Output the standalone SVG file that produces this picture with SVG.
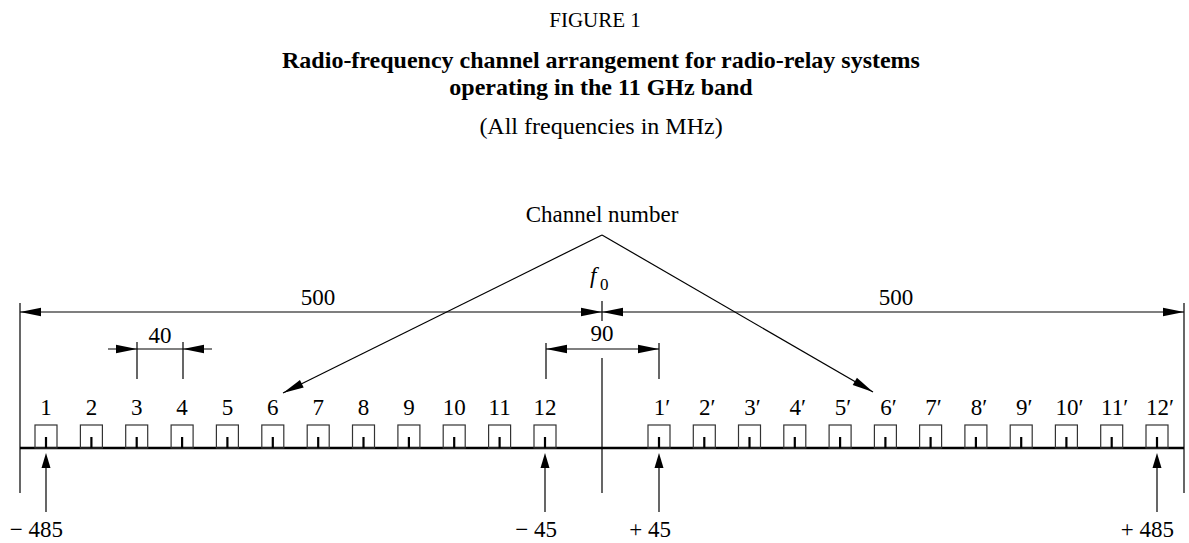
<svg xmlns="http://www.w3.org/2000/svg" xmlns:xlink="http://www.w3.org/1999/xlink" width="1189" height="543" viewBox="0 0 1189 543">
<style>
text{font-family:"Liberation Serif","Times New Roman",serif;fill:#000}
.t{font-size:23px;text-anchor:middle}
.b{font-size:24px;font-weight:bold;text-anchor:middle}
.l{stroke:#000;stroke-width:1.2;fill:none}
.box{stroke:#333;stroke-width:1.2;fill:none}
.tick{stroke:#000;stroke-width:2.2}
.base{stroke:#000;stroke-width:2.4}
</style>
<defs>
<path id="ah" d="M0,0 L-21,-4.2 L-21,4.2 Z" fill="#000"/>
<path id="ahs" d="M0,0 L-15,-4.5 L-15,4.5 Z" fill="#000"/>
<g id="ch"><rect class="box" x="-11" y="425" width="22" height="23"/><line class="tick" x1="0" y1="437" x2="0" y2="448"/></g>
</defs>

<g id="title">
<text x="595" y="27" style="font-size:21px;text-anchor:middle">FIGURE 1</text>
<text class="b" x="601" y="68">Radio-frequency channel arrangement for radio-relay systems</text>
<text class="b" x="601" y="95">operating in the 11 GHz band</text>
<text class="t" x="601" y="134" style="font-size:24px">(All frequencies in MHz)</text>
</g>

<g id="connectors">
<!-- outer limits -->
<line class="l" x1="20" y1="303" x2="20" y2="493"/>
<line class="l" x1="1184" y1="303" x2="1184" y2="493"/>
<line class="l" x1="20" y1="312" x2="1184" y2="312"/>
<use xlink:href="#ah" transform="translate(20,312) rotate(180)"/>
<use xlink:href="#ah" transform="translate(1184,312)"/>
<use xlink:href="#ah" transform="translate(602,312)"/>
<use xlink:href="#ah" transform="translate(602,312) rotate(180)"/>
<line class="l" x1="602" y1="301" x2="602" y2="321"/>
<!-- 40 dimension -->
<line class="l" x1="108" y1="349" x2="212" y2="349"/>
<line class="l" x1="137" y1="342" x2="137" y2="379"/>
<line class="l" x1="183" y1="342" x2="183" y2="379"/>
<use xlink:href="#ah" transform="translate(137,349)"/>
<use xlink:href="#ah" transform="translate(183,349) rotate(180)"/>
<!-- 90 dimension -->
<line class="l" x1="546" y1="349" x2="659" y2="349"/>
<line class="l" x1="546" y1="343" x2="546" y2="379"/>
<line class="l" x1="659" y1="343" x2="659" y2="379"/>
<use xlink:href="#ah" transform="translate(546,349) rotate(180)"/>
<use xlink:href="#ah" transform="translate(659,349)"/>
<!-- centre line -->
<line class="l" x1="602" y1="358" x2="602" y2="493"/>
<!-- channel number pointers -->
<line class="l" x1="602" y1="235" x2="283" y2="393"/>
<line class="l" x1="602" y1="235" x2="873" y2="392"/>
<use xlink:href="#ah" transform="translate(283,393) rotate(153.65)"/>
<use xlink:href="#ah" transform="translate(873,392) rotate(30.08)"/>
<!-- baseline -->
<line class="base" x1="20" y1="448" x2="1184" y2="448"/>
<!-- frequency arrows -->
<line class="l" x1="46" y1="512" x2="46" y2="462"/>
<use xlink:href="#ahs" transform="translate(46,453) rotate(-90)"/>
<line class="l" x1="545" y1="512" x2="545" y2="462"/>
<use xlink:href="#ahs" transform="translate(545,453) rotate(-90)"/>
<line class="l" x1="659" y1="512" x2="659" y2="462"/>
<use xlink:href="#ahs" transform="translate(659,453) rotate(-90)"/>
<line class="l" x1="1157" y1="512" x2="1157" y2="462"/>
<use xlink:href="#ahs" transform="translate(1157,453) rotate(-90)"/>
</g>

<g id="labels">
<text class="t" x="602" y="222">Channel number</text>
<text class="t" x="318" y="305">500</text>
<text class="t" x="896" y="305">500</text>
<text x="590" y="283" style="font-size:23px;font-style:italic">f</text>
<text x="600" y="290" style="font-size:17px">0</text>
<text class="t" x="160" y="343">40</text>
<text class="t" x="602" y="341">90</text>
<text x="63" y="537" style="font-size:23px;text-anchor:end">− 485</text>
<text x="557" y="537" style="font-size:23px;text-anchor:end">− 45</text>
<text x="671" y="537" style="font-size:23px;text-anchor:end">+ 45</text>
<text x="1174" y="537" style="font-size:23px;text-anchor:end">+ 485</text>
</g>

<g id="ch1"><use xlink:href="#ch" x="46"/><text class="t" x="46" y="415">1</text></g>
<g id="ch2"><use xlink:href="#ch" x="91.4"/><text class="t" x="91.4" y="415">2</text></g>
<g id="ch3"><use xlink:href="#ch" x="136.7"/><text class="t" x="136.7" y="415">3</text></g>
<g id="ch4"><use xlink:href="#ch" x="182.1"/><text class="t" x="182.1" y="415">4</text></g>
<g id="ch5"><use xlink:href="#ch" x="227.4"/><text class="t" x="227.4" y="415">5</text></g>
<g id="ch6"><use xlink:href="#ch" x="272.8"/><text class="t" x="272.8" y="415">6</text></g>
<g id="ch7"><use xlink:href="#ch" x="318.2"/><text class="t" x="318.2" y="415">7</text></g>
<g id="ch8"><use xlink:href="#ch" x="363.5"/><text class="t" x="363.5" y="415">8</text></g>
<g id="ch9"><use xlink:href="#ch" x="408.9"/><text class="t" x="408.9" y="415">9</text></g>
<g id="ch10"><use xlink:href="#ch" x="454.2"/><text class="t" x="454.2" y="415">10</text></g>
<g id="ch11"><use xlink:href="#ch" x="499.6"/><text class="t" x="499.6" y="415">11</text></g>
<g id="ch12"><use xlink:href="#ch" x="545"/><text class="t" x="545" y="415">12</text></g>

<g id="ch1p"><use xlink:href="#ch" x="659"/><text class="t" x="662" y="415">1′</text></g>
<g id="ch2p"><use xlink:href="#ch" x="704.3"/><text class="t" x="707.3" y="415">2′</text></g>
<g id="ch3p"><use xlink:href="#ch" x="749.5"/><text class="t" x="752.5" y="415">3′</text></g>
<g id="ch4p"><use xlink:href="#ch" x="794.8"/><text class="t" x="797.8" y="415">4′</text></g>
<g id="ch5p"><use xlink:href="#ch" x="840.1"/><text class="t" x="843.1" y="415">5′</text></g>
<g id="ch6p"><use xlink:href="#ch" x="885.4"/><text class="t" x="888.4" y="415">6′</text></g>
<g id="ch7p"><use xlink:href="#ch" x="930.6"/><text class="t" x="933.6" y="415">7′</text></g>
<g id="ch8p"><use xlink:href="#ch" x="975.9"/><text class="t" x="978.9" y="415">8′</text></g>
<g id="ch9p"><use xlink:href="#ch" x="1021.2"/><text class="t" x="1024.2" y="415">9′</text></g>
<g id="ch10p"><use xlink:href="#ch" x="1066.4"/><text class="t" x="1069.4" y="415">10′</text></g>
<g id="ch11p"><use xlink:href="#ch" x="1111.7"/><text class="t" x="1114.7" y="415">11′</text></g>
<g id="ch12p"><use xlink:href="#ch" x="1157"/><text class="t" x="1160" y="415">12′</text></g>
</svg>
